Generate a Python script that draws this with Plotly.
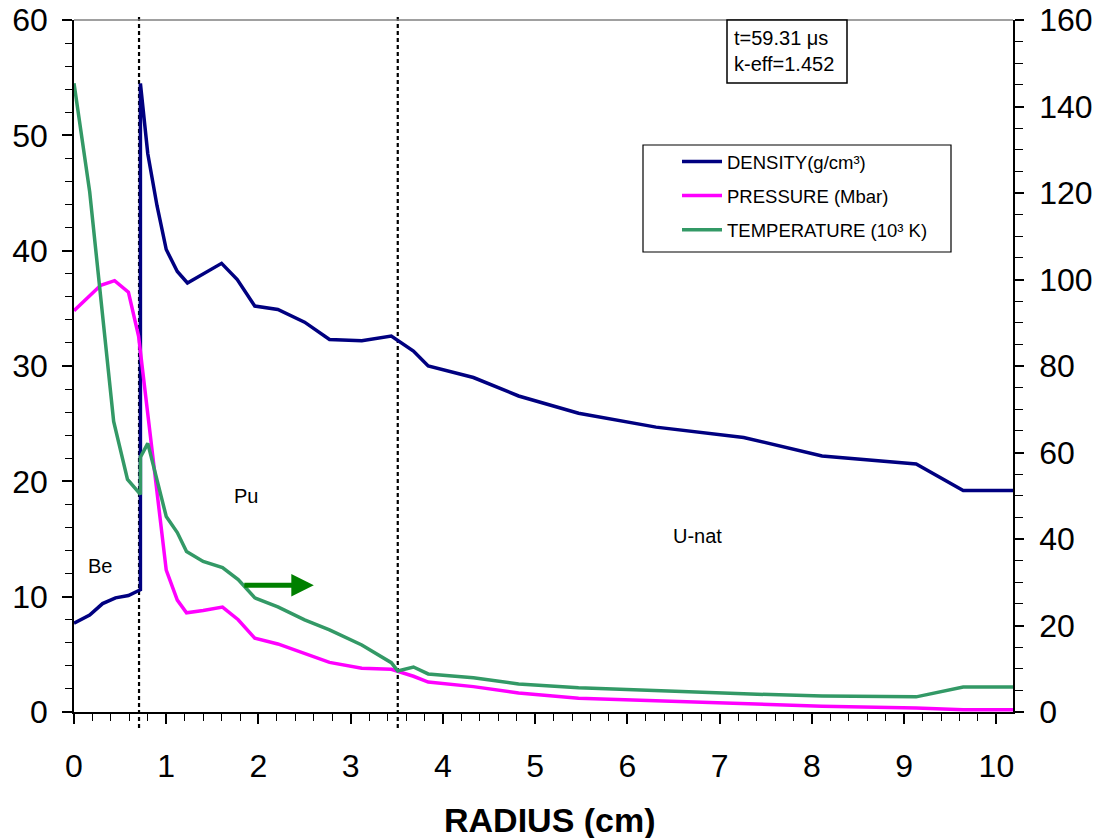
import plotly.graph_objects as go

# ---- data ----
dens_x = [0, 0.17, 0.31, 0.45, 0.59, 0.72, 0.72, 0.80, 0.90, 1.0, 1.12, 1.23, 1.60, 1.77, 1.96,
          2.21, 2.50, 2.77, 3.12, 3.44, 3.68, 3.84, 4.33, 4.82, 5.47, 6.31, 7.26, 8.11, 9.13, 9.64, 10.18]
dens_y = [7.7, 8.4, 9.4, 9.9, 10.1, 10.6, 54.5, 48.4, 43.9, 40.1, 38.2, 37.2, 38.9, 37.5, 35.2,
          34.9, 33.8, 32.3, 32.2, 32.6, 31.3, 30.0, 29.0, 27.4, 25.9, 24.7, 23.8, 22.2, 21.5, 19.2, 19.2]

pres_x = [0, 0.29, 0.44, 0.59, 0.70, 1.0, 1.12, 1.22, 1.40, 1.61, 1.78, 1.96, 2.21, 2.50, 2.77,
          3.12, 3.44, 3.68, 3.84, 4.33, 4.82, 5.47, 6.31, 7.26, 8.11, 9.13, 9.64, 10.18]
pres_y = [34.8, 37.0, 37.4, 36.4, 32.6, 12.3, 9.7, 8.6, 8.8, 9.1, 8.0, 6.4, 5.9, 5.1, 4.3,
          3.8, 3.7, 3.1, 2.6, 2.2, 1.65, 1.2, 1.0, 0.75, 0.5, 0.35, 0.2, 0.2]

temp_x = [0, 0.17, 0.43, 0.58, 0.72, 0.72, 0.80, 1.0, 1.12, 1.22, 1.40, 1.61, 1.78, 1.96, 2.21,
          2.50, 2.77, 3.12, 3.44, 3.51, 3.68, 3.84, 4.33, 4.82, 5.47, 6.31, 7.26, 8.11, 9.13, 9.64, 10.18]
temp_y = [145.4, 120.3, 67.2, 53.8, 50.3, 58.9, 62.1, 45.2, 41.5, 37.1, 34.8, 33.4, 30.6, 26.4, 24.3,
          21.3, 19.0, 15.5, 11.4, 9.5, 10.4, 8.8, 7.9, 6.5, 5.6, 4.9, 4.2, 3.7, 3.5, 5.8, 5.8]

boundaries = [0.705, 3.51]
region_labels = ["Be", "Pu", "U-nat"]
region_x = [0.28, 1.87, 6.76]
region_y = [12.7, 18.7, 15.3]

FONT = "Liberation Sans, Arial, sans-serif"

fig = go.Figure()
fig.add_trace(go.Scatter(x=dens_x, y=dens_y, mode="lines", name="DENSITY(g/cm³)", legendgroup="a",
                         line=dict(color="#000080", width=3.5)))
fig.add_trace(go.Scatter(x=pres_x, y=pres_y, mode="lines", name="PRESSURE (Mbar)", legendgroup="b",
                         line=dict(color="#FF00FF", width=3.5)))
fig.add_trace(go.Scatter(x=temp_x, y=temp_y, mode="lines", name="TEMPERATURE (10³ K)", legendgroup="c",
                         line=dict(color="#339966", width=3.5), yaxis="y2"))

for b in boundaries:
    fig.add_shape(type="line", xref="x", yref="paper", x0=b, x1=b, y0=-0.023, y1=1.007,
                  line=dict(color="black", width=2.2, dash="4px,3px"), layer="below")

# top frame line
fig.add_shape(type="line", xref="paper", yref="paper", x0=0, x1=1, y0=1, y1=1,
              line=dict(color="#808080", width=1.5))

# legend frame
PW, PH, PL, PT = 939.0, 692.0, 74.0, 20.0
def px(xp):
    return (xp - PL) / PW
def py(yp):
    return (PT + PH - yp) / PH
fig.add_shape(type="rect", xref="paper", yref="paper", x0=px(643), x1=px(951), y0=py(252), y1=py(145),
              line=dict(color="black", width=1.2), fillcolor="rgba(0,0,0,0)")

# info box
fig.add_shape(type="rect", xref="paper", yref="paper", x0=px(727), x1=px(847), y0=py(83), y1=py(20),
              line=dict(color="black", width=1.5), fillcolor="white")
fig.add_annotation(x=px(732), y=py(51), xref="paper", yref="paper", xanchor="left", yanchor="middle",
                   text="t=59.31 μs<br>k-eff=1.452", showarrow=False, align="left",
                   font=dict(size=20, color="black", family=FONT))

for t, xx, yy in zip(region_labels, region_x, region_y):
    fig.add_annotation(x=xx, y=yy, text=t, showarrow=False, xref="x", yref="y",
                       font=dict(size=20, color="black", family=FONT))

# arrow toward right axis
fig.add_annotation(x=2.6, y=11.0, ax=1.83, ay=11.0, xref="x", yref="y", axref="x", ayref="y",
                   text="", showarrow=True, arrowhead=2, arrowsize=0.9, arrowwidth=5,
                   arrowcolor="#008000")

# x-axis title
fig.add_annotation(x=px(550), y=py(820), xref="paper", yref="paper", text="<b>RADIUS (cm)</b>",
                   showarrow=False, yanchor="middle", xanchor="center",
                   font=dict(size=34, color="black", family=FONT))

fig.update_layout(
    width=1107, height=838,
    margin=dict(l=74, r=94, t=20, b=126),
    paper_bgcolor="white", plot_bgcolor="white",
    font=dict(family=FONT, color="black"),
    showlegend=True,
    legend=dict(x=px(677), y=py(143), xanchor="left", yanchor="top",
                borderwidth=0, bgcolor="rgba(0,0,0,0)",
                font=dict(size=18.5, color="black", family=FONT),
                itemwidth=40, tracegroupgap=7),
    xaxis=dict(range=[0, 10.18], dtick=1, tick0=0, showgrid=False, zeroline=False, automargin=False,
               showline=True, linecolor="black", linewidth=1.5,
               ticks="outside", ticklen=10, tickcolor="black", tickwidth=1.5,
               tickfont=dict(size=32, family=FONT), ticklabelstandoff=15,
               minor=dict(dtick=0.2, ticks="outside", ticklen=7, tickcolor="black", tickwidth=1.2)),
    yaxis=dict(range=[0, 60], dtick=10, showgrid=False, zeroline=False, automargin=False,
               showline=True, linecolor="black", linewidth=1.5,
               ticks="outside", ticklen=10, tickcolor="black", tickwidth=1.5,
               tickfont=dict(size=32, family=FONT), ticklabelstandoff=8,
               minor=dict(dtick=2, ticks="outside", ticklen=7, tickcolor="black", tickwidth=1.2)),
    yaxis2=dict(range=[0, 160], dtick=20, overlaying="y", side="right", showgrid=False,
                zeroline=False, automargin=False, showline=True, linecolor="black", linewidth=1.5,
                ticks="outside", ticklen=9, tickcolor="black", tickwidth=1.5,
                tickfont=dict(size=32, family=FONT), ticklabelstandoff=9,
                minor=dict(dtick=5, ticks="outside", ticklen=8, tickcolor="black", tickwidth=1.2)),
)

fig.write_html("out.html")
